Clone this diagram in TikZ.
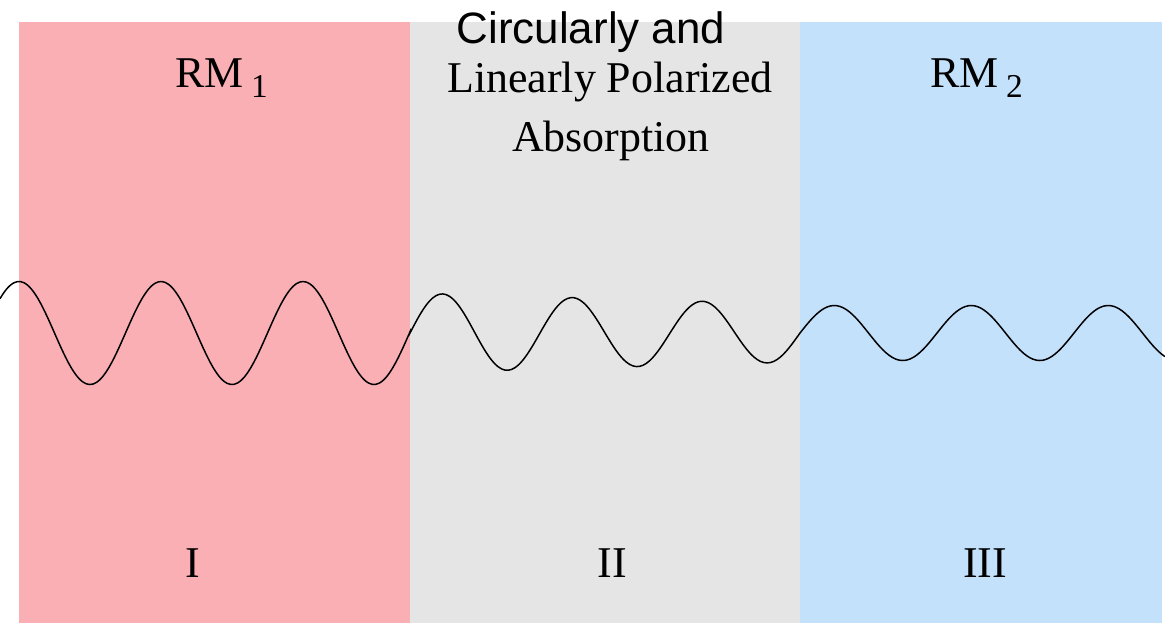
\documentclass[tikz,border=0pt]{standalone}
\usepackage{fontspec}
\setmainfont{Liberation Serif}
\newfontfamily\labelsans{Liberation Sans}
\definecolor{regionred}{RGB}{249,175,179}
\definecolor{regiongray}{RGB}{229,229,229}
\definecolor{regionblue}{RGB}{196,225,251}
\newcommand{\regsub}[1]{\,\raisebox{-5.7pt}{\fontsize{19}{19}\selectfont #1}}

\begin{document}
\begin{tikzpicture}[x=0.02cm, y=-0.02cm, every node/.style={inner sep=0pt, font=\fontsize{25}{30}\selectfont}, wave/.style={black, line width=0.85pt}]
	\useasboundingbox (0,0) rectangle (1165,623);
	
	% region fills
	\fill[regionred] (19,22) rectangle (410,623);
	\fill[regiongray] (410,22) rectangle (800,623);
	\fill[regionblue] (800,22) rectangle (1162,623);
	
	% region titles
	\node[anchor=base west] (rmone) at (175,87) {RM\regsub{1}};
	\node[anchor=base] (circ) at (591,43) {\labelsans Circularly and};
	\node[anchor=base] (linpol) at (610,92) {Linearly Polarized};
	\node[anchor=base] (absorb) at (611,151) {Absorption};
	\node[anchor=base west] (rmtwo) at (930,87) {RM\regsub{2}};
	
	% wave through the three regions
	\draw[wave] plot[smooth, domain=0:410, samples=120] (\x, {333-51.5*sin((\x+16.5)/142*360)})
		-- plot[smooth, domain=410:800, samples=120] (\x, {333-(40-11*(\x-410)/390)*sin((\x-410)/130*360)})
		-- plot[smooth, domain=800:1165, samples=120] (\x, {333-27.5*sin((\x-800)/137*360)});
	
	% region numbers
	\node[anchor=base] (regI) at (193,577) {I};
	\node[anchor=base] (regII) at (612,577) {II};
	\node[anchor=base] (regIII) at (985,577) {III};
\end{tikzpicture}
\end{document}
